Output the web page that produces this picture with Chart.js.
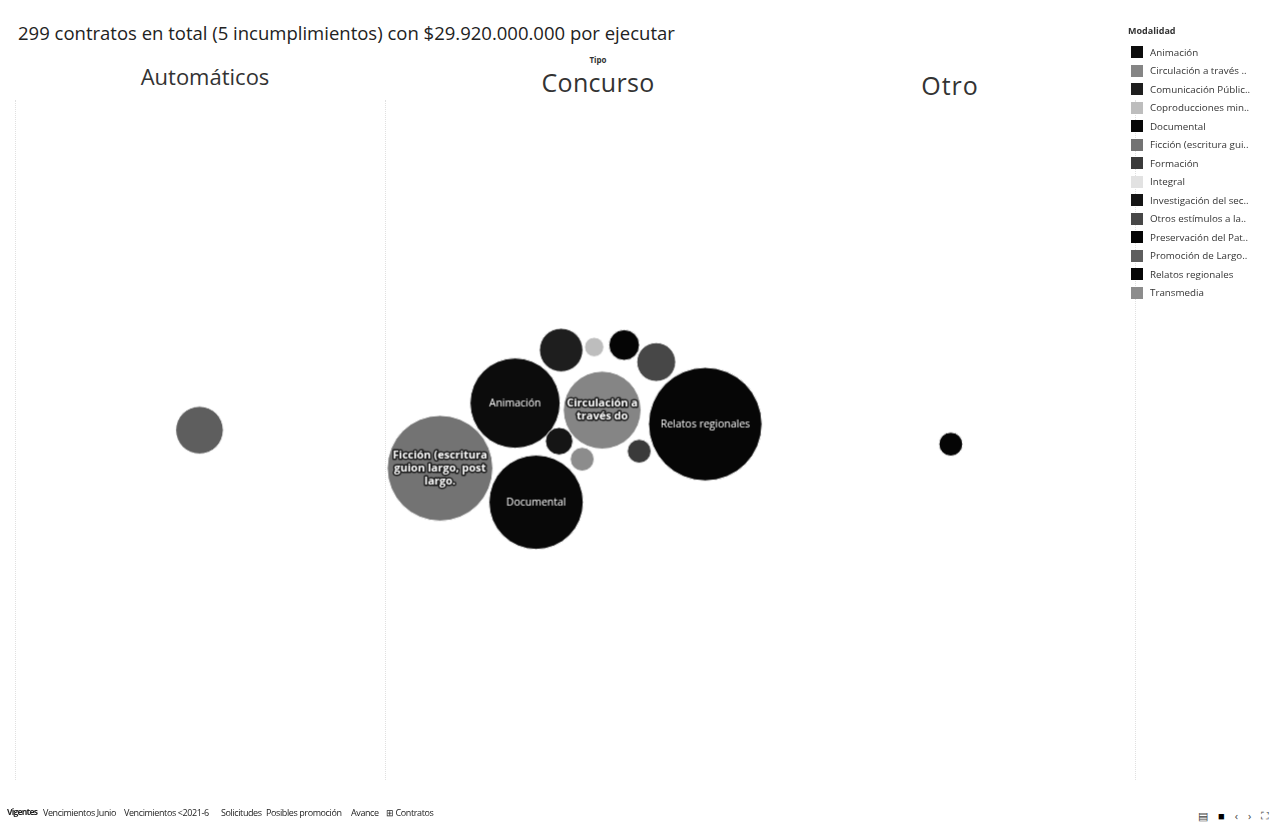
<!DOCTYPE html>
<html>
<head>
<meta charset="utf-8">
<script src="https://cdn.jsdelivr.net/npm/chart.js@4.4.0/dist/chart.umd.min.js"></script>
<style>
  body { margin: 0; background: #fff; font-family: "Open Sans", sans-serif; color: #222; }
  #page { position: relative; width: 1287px; height: 833px; overflow: hidden; }
  .abs { position: absolute; white-space: nowrap; }
  #title { left: 18px; top: 20px; font-size: 18.5px; color: #222; }
  .pane-head { color: #333; transform: translateX(-50%); }
  #tipo { left: 598px; top: 54px; font-size: 8px; font-weight: bold; color: #333; transform: translateX(-50%); }
  .sep { position: absolute; top: 100px; height: 680px; width: 0; border-left: 1px dotted rgba(0,0,0,0.12); }
  #chartBox { position: absolute; }
  #legend { left: 1128px; top: 24px; font-size: 9.8px; color: #333; }
  #legend .head { font-weight: bold; font-size: 9px; margin-bottom: 6px; }
  #legend .item { height: 18.5px; display: flex; align-items: center; }
  #legend .sw { width: 12px; height: 12px; margin: 0 7px 0 3px; }
  .tab { top: 806px; font-size: 9px; letter-spacing: -0.4px; color: #222; }
  #icons { left: 1198px; top: 808px; font-size: 11px; color: #444; }
  #icons span { margin-right: 10px; }
</style>
</head>
<body>
<div id="page">
  <div id="title" class="abs"></div>
  <div id="tipo" class="abs">Tipo</div>
  <div class="sep" style="left:15px"></div>
  <div class="sep" style="left:385px"></div>
  <div class="sep" style="left:1135px"></div>
  <div id="heads"></div>
  <div id="chartBox"><canvas id="bubbleChart"></canvas></div>
  <div id="legend" class="abs"></div>
  <div id="tabs"></div>
  <div id="icons" class="abs"><span>▤</span><span style="color:#000">■</span><span>‹</span><span>›</span><span>⛶</span></div>
</div>
<script>
// -----------------------------------------------------------------------------
// Data (contract counts per Tipo / Modalidad)
// -----------------------------------------------------------------------------
const titleText = '299 contratos en total (5 incumplimientos) con $29.920.000.000 por ejecutar';

const tipos = ['Automáticos', 'Concurso', 'Otro'];

const modalidades = [
    'Animación', 'Circulación a través ..', 'Comunicación Públic..', 'Coproducciones min..',
    'Documental', 'Ficción (escritura gui..', 'Formación', 'Integral',
    'Investigación del sec..', 'Otros estímulos a la..', 'Preservación del Pat..',
    'Promoción de Largo..', 'Relatos regionales', 'Transmedia'
];
const modalidadColors = [
    '#0c0c0c', '#858585', '#1e1e1e', '#bdbdbd',
    '#080808', '#737373', '#3a3a3a', '#e2e2e2',
    '#151515', '#474747', '#050505',
    '#5e5e5e', '#060606', '#8c8c8c'
];

// one entry per bubble
const bubbleTipo      = [0, 1, 1, 1, 1, 1, 1, 1, 1, 1, 1, 1, 1, 2];
const bubbleModalidad = [11, 5, 4, 0, 1, 12, 2, 3, 10, 9, 8, 13, 6, 10];
const bubbleContratos = [12, 59, 47, 43, 32, 68, 10, 2, 5, 8, 4, 3, 3, 3];
const bubbleLabels    = [
    null, ['Ficción (escritura', 'guion largo, post', 'largo.'], ['Documental'], ['Animación'],
    ['Circulación a', 'través do'], ['Relatos regionales'], null, null, null, null, null, null, null, null
];

// packed-bubble layout: offset from pane centre (x) and depth from the top of the view (y)
const layoutDx = [-2, -135, -39, -60, 27, 130, -14, 19, 49, 81, -16, 7, 64, 2];
const layoutY  = [330, 368, 402, 303, 310, 324, 250, 247, 245, 262, 341, 359, 351, 344];

const viewLeft = 15, viewTop = 100, viewWidth = 1120, viewHeight = 680;
const paneWidth = viewWidth / tipos.length;
const radiusScale = 6.87;
const borderW = 1;

// -----------------------------------------------------------------------------
// Text parts
// -----------------------------------------------------------------------------
document.getElementById('title').textContent = titleText;

const headStyle = [
    { left: 205, top: 61, size: 22, spacing: 0 },
    { left: 598, top: 65, size: 25, spacing: 0.3 },
    { left: 950, top: 68, size: 25, spacing: 1 }
];
const heads = document.getElementById('heads');
tipos.forEach((t, i) => {
    const s = headStyle[i];
    const d = document.createElement('div');
    d.className = 'abs pane-head';
    d.style.left = s.left + 'px';
    d.style.top = s.top + 'px';
    d.style.fontSize = s.size + 'px';
    d.style.letterSpacing = s.spacing + 'px';
    d.textContent = t;
    heads.appendChild(d);
});

const legend = document.getElementById('legend');
legend.innerHTML = '<div class="head">Modalidad</div>';
modalidades.forEach((m, i) => {
    const row = document.createElement('div');
    row.className = 'item';
    row.innerHTML = `<div class="sw" style="background:${modalidadColors[i]}"></div><div>${m}</div>`;
    legend.appendChild(row);
});

const tabs = ['Vigentes', 'Vencimientos Junio', 'Vencimientos <2021-6', 'Solicitudes', 'Posibles promoción', 'Avance', '⊞ Contratos'];
const tabX = [7, 43, 124, 221, 266, 351, 386];
const tabBox = document.getElementById('tabs');
tabs.forEach((t, i) => {
    const s = document.createElement('div');
    s.className = 'abs tab';
    s.style.left = tabX[i] + 'px';
    s.textContent = t;
    if (i === 0) {
        s.style.fontWeight = 'bold';
        s.style.fontSize = '8.5px';
        s.style.letterSpacing = '-0.8px';
    }
    tabBox.appendChild(s);
});

// -----------------------------------------------------------------------------
// Bubble chart
// -----------------------------------------------------------------------------
const radii = bubbleContratos.map(c => radiusScale * Math.sqrt(c));
const points = bubbleContratos.map((c, i) => ({
    x: paneWidth * (bubbleTipo[i] + 0.5) + layoutDx[i],
    y: layoutY[i],
    r: radii[i]
}));

// the bubble controller pads the chart area by the biggest radius; grow the box to match
const pad = Math.max(...radii) + borderW;
const box = document.getElementById('chartBox');
box.style.left = (viewLeft - pad) + 'px';
box.style.top = (viewTop - pad) + 'px';
box.style.width = (viewWidth + 2 * pad) + 'px';
box.style.height = (viewHeight + 2 * pad) + 'px';

// Draw labels inside the larger bubbles
const bubbleLabelPlugin = {
    id: 'bubbleLabels',
    afterDatasetsDraw(chart) {
        const ctx = chart.ctx;
        const meta = chart.getDatasetMeta(0);
        ctx.save();
        ctx.textAlign = 'center';
        ctx.textBaseline = 'middle';
        meta.data.forEach((el, i) => {
            const lines = bubbleLabels[i];
            if (!lines) return;
            const grey = modalidadColors[bubbleModalidad[i]] > '#300000';
            const lh = 13;
            const y0 = el.y - (lines.length - 1) * lh / 2;
            lines.forEach((ln, k) => {
                if (grey) {
                    ctx.font = 'bold 11px "Open Sans"';
                    ctx.lineWidth = 3;
                    ctx.strokeStyle = '#1a1a1a';
                    ctx.lineJoin = 'round';
                    ctx.strokeText(ln, el.x, y0 + k * lh);
                } else {
                    ctx.font = '10.5px "Open Sans"';
                }
                ctx.fillStyle = '#fff';
                ctx.fillText(ln, el.x, y0 + k * lh);
            });
        });
        ctx.restore();
    }
};

new Chart(document.getElementById('bubbleChart'), {
    type: 'bubble',
    data: {
        datasets: [{
            label: 'Contratos',
            data: points,
            backgroundColor: bubbleModalidad.map(m => modalidadColors[m]),
            borderColor: '#ffffff',
            borderWidth: borderW,
            hoverRadius: 0
        }]
    },
    options: {
        responsive: true,
        maintainAspectRatio: false,
        animation: false,
        layout: { padding: 0 },
        plugins: {
            legend: { display: false },
            tooltip: { enabled: false }
        },
        scales: {
            x: { type: 'linear', min: 0, max: viewWidth, display: false },
            y: { type: 'linear', min: 0, max: viewHeight, reverse: true, display: false }
        }
    },
    plugins: [bubbleLabelPlugin]
});
</script>
</body>
</html>
